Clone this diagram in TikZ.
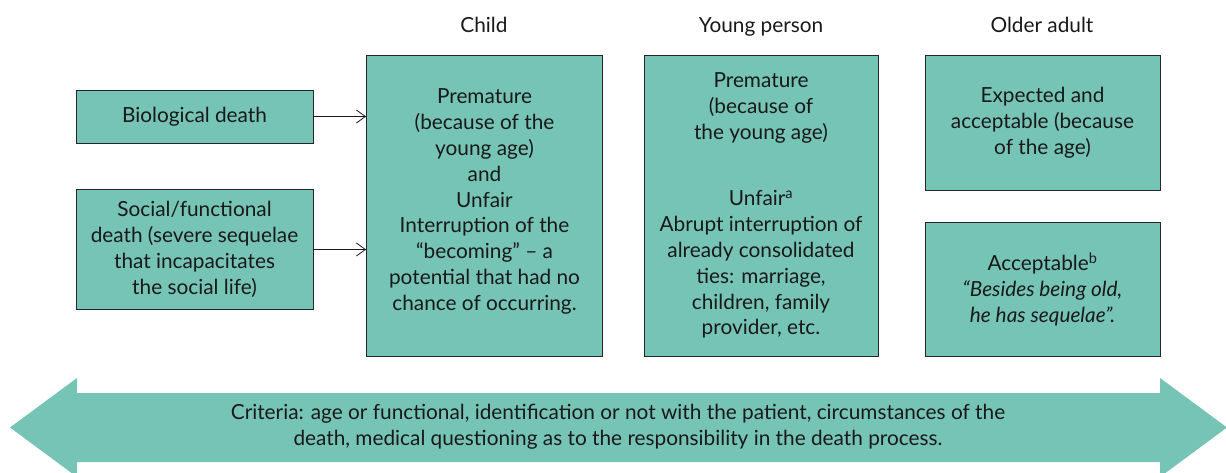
\documentclass[tikz,border=0pt]{standalone}
\usepackage{fontspec}
\setmainfont{Lato}
\usetikzlibrary{arrows.meta}
\definecolor{boxfill}{RGB}{118,196,182}
\newcommand{\fs}{\fontsize{20.8}{25.8}\selectfont}
\tikzset{
    box/.style={draw=black!85, line width=0.8pt, fill=boxfill, align=center, inner sep=0pt, font=\fs, text=black!90},
    head/.style={font=\fs, text=black!90, anchor=base},
    link/.style={-{Straight Barb[length=9pt,width=13pt]}, line width=0.8pt, draw=black!90}
}

\begin{document}
\begin{tikzpicture}[x=1pt,y=-1pt]
    \useasboundingbox (0,0) rectangle (1226,473);
    % column headings
    \node[head] (child) at (484,33) {Child};
    \node[head] (young) at (761,33) {Young person};
    \node[head] (older) at (1042,33) {Older adult};
    % kinds of death
    \node[box, minimum width=237, minimum height=53] (bio) at (194.5,116.5) {Biological death};
    \node[box, minimum width=237, minimum height=120] (social) at (194.5,249.5)
        {Social/functional\\death (severe sequelae\\that incapacitates\\the social life)};
    % columns
    \node[box, minimum width=236, minimum height=301] (childbox) at (484.5,205.5)
        {Premature\\(because of the\\young age)\\and\\Unfair\\Interruption of the\\“becoming” – a\\potential that had no\\chance of occurring.\\[-14pt]};
    \node[box, minimum width=234, minimum height=301] (youngbox) at (761,205.5)
        {Premature\\(because of\\the young age)\\[41pt]Unfair\textsuperscript{a}\\Abrupt interruption of\\already consolidated\\ties: marriage,\\children, family\\provider, etc.};
    \node[box, minimum width=235, minimum height=135] (expected) at (1042.5,122.5)
        {Expected and\\acceptable (because\\of the age)};
    \node[box, minimum width=235, minimum height=134] (acceptable) at (1042.5,289)
        {Acceptable\textsuperscript{b}\\\textit{“Besides being old,}\\\textit{he has sequelae”.}};
    \draw[link] (bio.east) -- (bio.east -| childbox.west);
    \draw[link] (social.east) -- (social.east -| childbox.west);
    % criteria band
    \fill[boxfill] (10,427.5) -- (77,378) -- (77,393) -- (1160,393) -- (1160,378)
        -- (1227,427.5) -- (1160,477) -- (1160,462) -- (77,462) -- (77,477) -- cycle;
    \node[font=\fs, align=center, text=black!90] (criteria) at (618,427)
        {Criteria: age or functional, identification or not with the patient, circumstances of the\\death, medical questioning as to the responsibility in the death process.};
\end{tikzpicture}
\end{document}
